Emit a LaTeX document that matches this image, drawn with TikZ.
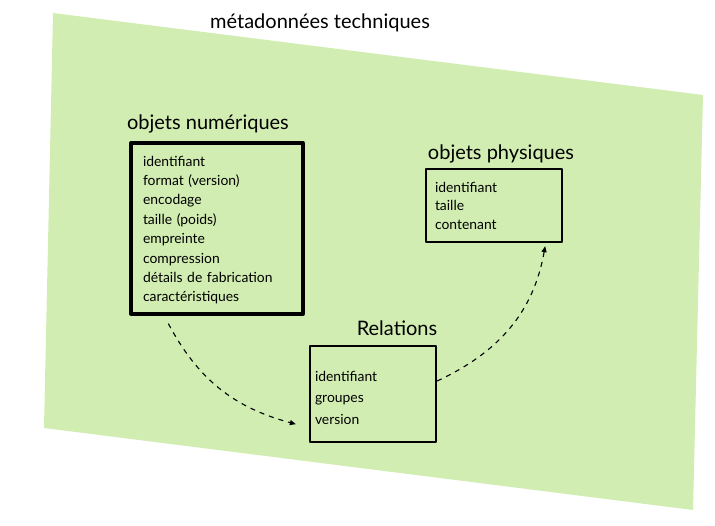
\documentclass[tikz,border=0pt]{standalone}
\usepackage{fontspec}
\setmainfont{Lato}
\usetikzlibrary{positioning,arrows.meta}
\definecolor{fondvert}{RGB}{209,237,177}
\tikzset{
  boite/.style={draw=black, fill=fondvert, align=left, inner xsep=12pt, inner ysep=0pt},
  titre/.style={font=\fontsize{20}{23}\selectfont, inner sep=1pt},
  lien/.style={dashed, line width=1.1pt, dash pattern=on 5pt off 5pt, -{Triangle[length=6pt,width=5pt]}}
}
\begin{document}
\begin{tikzpicture}[x=1pt, y=-1pt, line join=round]
	\useasboundingbox (0,0) rectangle (715,525);
	\fill[fondvert] (53,13)--(703,95)--(693,510)--(44,428)--cycle;
	\node[titre] (meta) at (320,23) {métadonnées techniques};
	% les trois boites
	\node[boite, line width=3.3pt, minimum width=172pt, minimum height=171pt, text width=148pt,
		font=\fontsize{13.9}{19.4}\selectfont] (num) at (217,228.5)
		{\\[-6pt]identifiant\\format (version)\\encodage\\taille (poids)\\empreinte\\compression\\détails de fabrication\\caractéristiques};
	\node[boite, line width=2.3pt, minimum width=136pt, minimum height=73pt, text width=118pt, inner xsep=7pt,
		font=\fontsize{13.9}{18.5}\selectfont] (phys) at (494,205.5)
		{identifiant\\taille\\contenant};
	\node[boite, line width=2.3pt, minimum width=126pt, minimum height=96pt, text width=116pt, inner xsep=5pt,
		font=\fontsize{13.9}{21.5}\selectfont] (rel) at (373,394)
		{\\[-4pt]identifiant\\groupes\\version};
	\node[titre, above=7pt of num, xshift=-9pt] (tnum) {objets numériques};
	\node[titre, above=4pt of phys, xshift=7pt] (tphys) {objets physiques};
	\node[titre, above=8pt of rel, xshift=24pt] (trel) {Relations};
	% liens
	\draw[lien] ([xshift=39pt,yshift=-8pt]num.south west) to[out=-62,in=165] ([xshift=-13pt,yshift=19pt]rel.south west);
	\draw[lien] ([yshift=13pt]rel.east) to[out=25,in=-100] ([xshift=-18pt,yshift=-3pt]phys.south east);
\end{tikzpicture}
\end{document}
